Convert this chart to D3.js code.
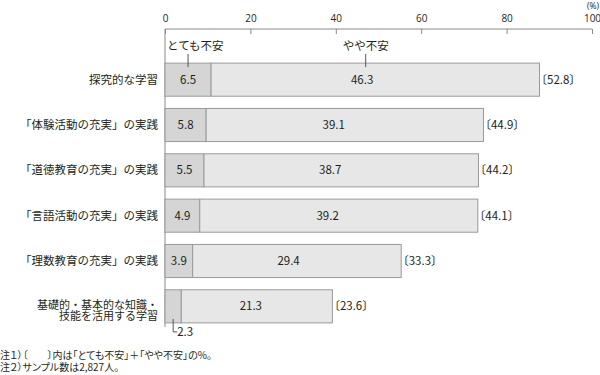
<!DOCTYPE html>
<html>
<head>
<meta charset="utf-8">
<script src="https://cdn.jsdelivr.net/npm/d3@7"></script>
<style>
  body { margin: 0; background: #fff; }
  text { font-family: "Noto Sans CJK JP", "Noto Sans", sans-serif; fill: #231f20; }
  .note { font-feature-settings: "palt"; }
</style>
</head>
<body>
<svg id="chart"></svg>
<script>
const categories = [
    "探究的な学習",
    "「体験活動の充実」の実践",
    "「道徳教育の充実」の実践",
    "「言語活動の充実」の実践",
    "「理数教育の充実」の実践",
    "基礎的・基本的な知識・\n技能を活用する学習"
];
const veryAnxious = [6.5, 5.8, 5.5, 4.9, 3.9, 2.3];
const somewhatAnxious = [46.3, 39.1, 38.7, 39.2, 29.4, 21.3];
const totals = [52.8, 44.9, 44.2, 44.1, 33.3, 23.6];
const axisTicks = [0, 20, 40, 60, 80, 100];
const seriesNames = ["とても不安", "やや不安"];
const notes = [
    "注１）〔　　〕内は「とても不安」＋「やや不安」の%。",
    "注２）サンプル数は2,827人。"
];

const width = 600, height = 375;
const left = 165, right = 592;

const svg = d3.select("#chart")
    .attr("width", width)
    .attr("height", height);

// axis is labelled 0-100 but the bars in the source are drawn on a stretched scale
const x = d3.scaleLinear().domain([0, 100]).range([left, right]);
const xBar = d3.scaleLinear().domain([0, 60.2]).range([left, right]);

const y = d3.scaleBand()
    .domain(categories)
    .range([57, 329])
    .paddingInner(0.27)
    .paddingOuter(0.135);

const axisY = 29;
const axisColor = "#8a8a8a";

// top axis
const xAxis = d3.axisTop(x).tickValues(axisTicks).tickSize(-5).tickSizeOuter(0).tickPadding(7);
const gx = svg.append("g")
    .attr("transform", `translate(0,${axisY})`)
    .call(xAxis);
gx.select(".domain").attr("stroke", axisColor).attr("d", `M${left},0H${right}`);
gx.selectAll(".tick line").attr("stroke", axisColor);
gx.selectAll(".tick text")
    .style("font-size", "10px")
    .style("font-family", "'Open Sans', sans-serif")
    .attr("fill", "#231f20");

svg.append("text")
    .attr("x", 599)
    .attr("y", 9)
    .attr("text-anchor", "end")
    .style("font-size", "8.5px")
    .style("font-family", "'Open Sans', sans-serif")
    .text("(%)");

// vertical baseline
svg.append("line")
    .attr("x1", left).attr("x2", left)
    .attr("y1", axisY).attr("y2", y(categories[categories.length - 1]) + y.bandwidth() + 4)
    .attr("stroke", axisColor);

const rows = categories.map((c, i) => ({
    cat: c, a: veryAnxious[i], b: somewhatAnxious[i], total: totals[i]
}));

const row = svg.selectAll(".row")
    .data(rows)
    .enter()
    .append("g")
    .attr("class", "row")
    .attr("transform", d => `translate(0,${y(d.cat)})`);

row.append("rect")
    .attr("x", xBar(0))
    .attr("y", 0)
    .attr("width", d => xBar(d.a) - xBar(0))
    .attr("height", y.bandwidth())
    .attr("fill", "#d5d5d5")
    .attr("stroke", "#9a9a9a");

row.append("rect")
    .attr("x", d => xBar(d.a))
    .attr("y", 0)
    .attr("width", d => xBar(d.a + d.b) - xBar(d.a))
    .attr("height", y.bandwidth())
    .attr("fill", "#e7e7e8")
    .attr("stroke", "#9a9a9a");

// value labels
row.filter(d => d.a >= 3).append("text")
    .attr("x", d => xBar(d.a / 2))
    .attr("y", y.bandwidth() / 2)
    .attr("dy", "0.35em")
    .attr("text-anchor", "middle")
    .style("font-size", "11.5px")
    .text(d => d.a.toFixed(1));

row.append("text")
    .attr("x", d => xBar(d.a + d.b * 0.46))
    .attr("y", y.bandwidth() / 2)
    .attr("dy", "0.35em")
    .attr("text-anchor", "middle")
    .style("font-size", "11.5px")
    .text(d => d.b.toFixed(1));

row.append("text")
    .attr("x", d => xBar(d.total) - 4)
    .attr("y", y.bandwidth() / 2)
    .attr("dy", "0.35em")
    .style("font-size", "11.5px")
    .text(d => `〔${d.total.toFixed(1)}〕`);

// category labels
row.each(function(d) {
    const lines = d.cat.split("\n");
    const t = d3.select(this).append("text")
        .attr("x", 158)
        .attr("y", y.bandwidth() / 2 + (lines.length - 1) * 4)
        .attr("text-anchor", "end")
        .style("font-size", lines.length > 1 ? "11px" : "11.5px");
    lines.forEach((l, i) => {
        t.append("tspan")
            .attr("x", 158)
            .attr("dy", i === 0 ? `${0.35 - (lines.length - 1) * 0.5}em` : "1em")
            .text(l);
    });
});

// small value for the last bar, with leader
const last = rows[rows.length - 1];
const lastBottom = y(last.cat) + y.bandwidth();
const lx = xBar(last.a / 2);
svg.append("path")
    .attr("d", `M${lx},${lastBottom - 4}V${lastBottom + 9}H${lx + 4}`)
    .attr("fill", "none")
    .attr("stroke", "#555");
svg.append("text")
    .attr("x", lx + 4)
    .attr("y", lastBottom + 9)
    .attr("dy", "0.35em")
    .style("font-size", "11.5px")
    .text(last.a.toFixed(1));

// series labels above the first bar
const first = rows[0];
const firstTop = y(first.cat);
const legendPos = [xBar(first.a / 2), x(47)];
seriesNames.forEach((name, i) => {
    svg.append("text")
        .attr("x", i === 0 ? left + 2 : legendPos[i])
        .attr("y", 46)
        .attr("dy", "0.35em")
        .attr("text-anchor", i === 0 ? "start" : "middle")
        .style("font-size", "11.5px")
        .text(name);
    svg.append("line")
        .attr("x1", legendPos[i]).attr("x2", legendPos[i])
        .attr("y1", 54).attr("y2", firstTop + 4)
        .attr("stroke", "#555");
});

// notes
svg.selectAll(".note")
    .data(notes)
    .enter()
    .append("text")
    .attr("class", "note")
    .attr("x", 0)
    .attr("y", (d, i) => 355 + i * 12)
    .attr("dy", "0.35em")
    .style("font-size", "10px")
    .text(d => d);
</script>
</body>
</html>
